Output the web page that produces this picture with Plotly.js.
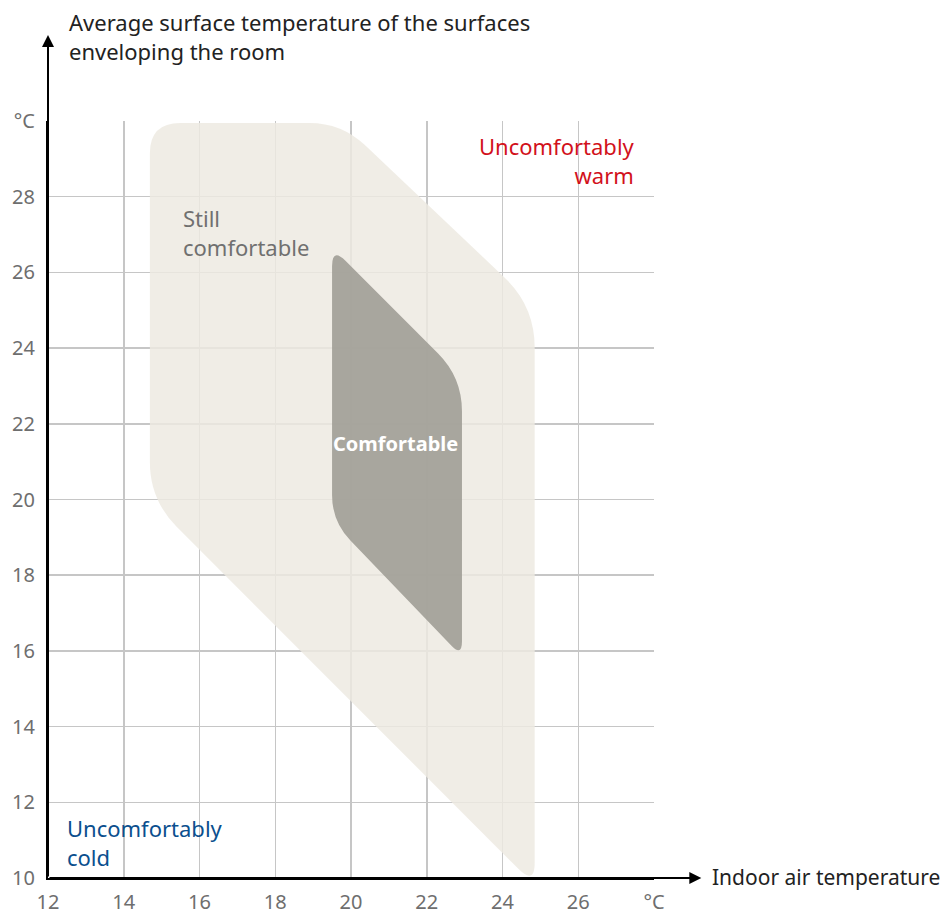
<!DOCTYPE html>
<html>
<head>
<meta charset="utf-8">
<script src="https://cdn.plot.ly/plotly-3.0.1.min.js"></script>
<style>html,body{margin:0;padding:0;background:#fff;}#chart{width:950px;height:915px;}</style>
</head>
<body>
<div id="chart"></div>
<script>
// Axis ticks
const xTickVals = [12, 14, 16, 18, 20, 22, 24, 26, 28];
const xTickText = ['12', '14', '16', '18', '20', '22', '24', '26', '°C'];
const yTickVals = [10, 12, 14, 16, 18, 20, 22, 24, 26, 28, 30];
const yTickText = ['10', '12', '14', '16', '18', '20', '22', '24', '26', '28', '°C'];

// "Still comfortable" zone: corner points (indoor air temp, surface temp) and corner rounding
const stillX = [14.69, 19.75, 24.85, 24.85, 14.69];
const stillY = [29.95, 29.95, 25.11, 9.81, 19.99];
const stillR = [0.8, 0.85, 1.1, 0.6, 1.0];

// "Comfortable" zone
const comfX = [19.5, 22.93, 22.93, 19.5];
const comfY = [26.66, 23.23, 15.85, 19.42];
const comfR = [0.5, 0.9, 0.4, 0.7];

function roundedPath(xs, ys, rs) {
  const n = xs.length;
  const pin = [], pout = [];
  for (let i = 0; i < n; i++) {
    const p = (i - 1 + n) % n, q = (i + 1) % n;
    let dx = xs[p] - xs[i], dy = ys[p] - ys[i], d = Math.hypot(dx, dy);
    pin.push([xs[i] + rs[i] * dx / d, ys[i] + rs[i] * dy / d]);
    dx = xs[q] - xs[i]; dy = ys[q] - ys[i]; d = Math.hypot(dx, dy);
    pout.push([xs[i] + rs[i] * dx / d, ys[i] + rs[i] * dy / d]);
  }
  let s = `M ${pout[0][0]},${pout[0][1]}`;
  for (let k = 1; k <= n; k++) {
    const i = k % n;
    s += ` L ${pin[i][0]},${pin[i][1]} Q ${xs[i]},${ys[i]} ${pout[i][0]},${pout[i][1]}`;
  }
  return s + ' Z';
}

const FONT = '"Noto Sans", "Open Sans", sans-serif';

const layout = {
  width: 950, height: 915,
  margin: {l: 48, r: 296, t: 121, b: 37},
  paper_bgcolor: '#ffffff', plot_bgcolor: '#ffffff',
  showlegend: false,
  xaxis: {
    range: [12, 28], tickvals: xTickVals, ticktext: xTickText,
    showgrid: true, gridcolor: '#c6c6c6', gridwidth: 1.5,
    zeroline: false, showline: true, linecolor: '#000', linewidth: 2,
    ticks: '', ticklabelstandoff: 5,
    tickfont: {family: FONT, size: 20, color: '#6e6e6e'},
    fixedrange: true
  },
  yaxis: {
    range: [10, 30], tickvals: yTickVals, ticktext: yTickText,
    showgrid: true, gridcolor: '#c6c6c6', gridwidth: 1.5,
    zeroline: false, showline: true, linecolor: '#000', linewidth: 2,
    ticks: '', ticklabelstandoff: 7,
    tickfont: {family: FONT, size: 20, color: '#6e6e6e'},
    fixedrange: true
  },
  shapes: [
    {type: 'path', xref: 'x', yref: 'y', layer: 'between', path: roundedPath(stillX, stillY, stillR),
     fillcolor: 'rgba(237,233,225,0.83)', line: {width: 0}},
    {type: 'path', xref: 'x', yref: 'y', layer: 'between', path: roundedPath(comfX, comfY, comfR),
     fillcolor: 'rgba(160,157,150,0.9)', line: {width: 0}}
  ],
  annotations: [
    // axis arrows
    {x: 29.25, y: 10, ax: 12, ay: 10, xref: 'x', yref: 'y', axref: 'x', ayref: 'y',
     text: '', showarrow: true, arrowhead: 2, arrowsize: 1.2, arrowwidth: 2, arrowcolor: '#000'},
    {x: 12, y: 32.27, ax: 12, ay: 10, xref: 'x', yref: 'y', axref: 'x', ayref: 'y',
     text: '', showarrow: true, arrowhead: 2, arrowsize: 1.2, arrowwidth: 2, arrowcolor: '#000'},
    // axis titles
    {x: 0.031, y: 1.111, xref: 'paper', yref: 'paper', xanchor: 'left', yanchor: 'middle', align: 'left',
     showarrow: false, text: 'Average surface temperature of the surfaces<br>enveloping the room',
     font: {family: FONT, size: 22, color: '#222'}},
    {x: 1.092, y: 0.001, xref: 'paper', yref: 'paper', xanchor: 'left', yanchor: 'middle', align: 'left',
     showarrow: false, text: 'Indoor air temperature',
     font: {family: FONT, size: 21, color: '#222'}},
    // zone labels
    {x: 15.5, y: 27.05, xref: 'x', yref: 'y', xanchor: 'left', yanchor: 'middle', align: 'left',
     showarrow: false, text: 'Still<br>comfortable',
     font: {family: FONT, size: 22, color: '#707070'}},
    {x: 21.18, y: 21.49, xref: 'x', yref: 'y', xanchor: 'center', yanchor: 'middle',
     showarrow: false, text: '<b>Comfortable</b>',
     font: {family: FONT, size: 20, color: '#ffffff'}},
    {x: 27.56, y: 28.96, xref: 'x', yref: 'y', xanchor: 'right', yanchor: 'middle', align: 'right',
     showarrow: false, text: 'Uncomfortably<br>warm',
     font: {family: FONT, size: 22, color: '#d2111b'}},
    {x: 12.46, y: 10.94, xref: 'x', yref: 'y', xanchor: 'left', yanchor: 'middle', align: 'left',
     showarrow: false, text: 'Uncomfortably<br>cold',
     font: {family: FONT, size: 22, color: '#0b4f8e'}}
  ]
};

Plotly.newPlot('chart', [], layout, {displayModeBar: false, staticPlot: true});
</script>
</body>
</html>
